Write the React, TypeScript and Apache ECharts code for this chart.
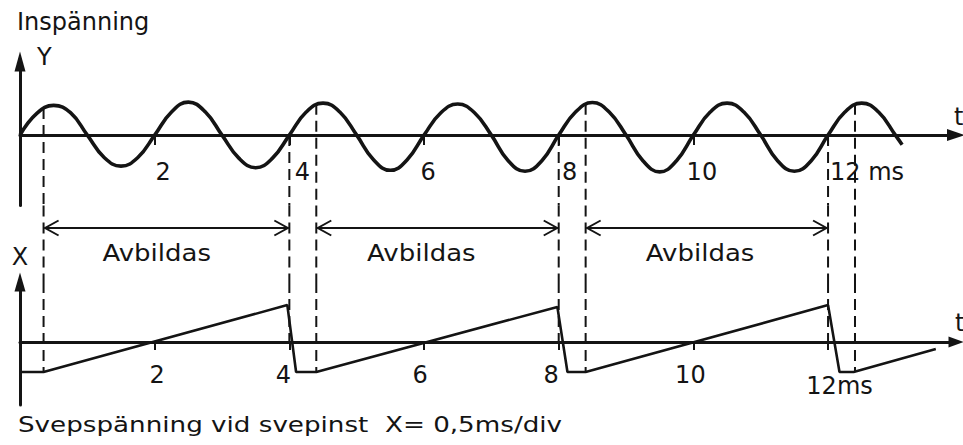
import React, { useEffect, useRef } from "react";
import * as echarts from "echarts";

// ---- data ----
const sineTimes = [
  0, 0.25, 0.5, 0.75, 1, 1.25, 1.5, 1.75, 2, 2.25, 2.5, 2.75, 3, 3.25, 3.5, 3.75,
  4, 4.25, 4.5, 4.75, 5, 5.25, 5.5, 5.75, 6, 6.25, 6.5, 6.75, 7, 7.25, 7.5, 7.75,
  8, 8.25, 8.5, 8.75, 9, 9.25, 9.5, 9.75, 10, 10.25, 10.5, 10.75, 11, 11.25, 11.5, 11.75,
  12, 12.25, 12.5, 12.75, 13, 13.1,
];
const sineValues = [
  0, 0.68, 0.93, 0.7, 0, -0.7, -0.97, -0.7, 0, 0.72, 1.03, 0.73, 0, -0.72, -1.02, -0.72,
  0, 0.72, 1.0, 0.72, 0, -0.77, -1.1, -0.77, 0, 0.7, 0.97, 0.7, 0, -0.8, -1.13, -0.8,
  0, 0.72, 1.02, 0.72, 0, -0.8, -1.15, -0.8, 0, 0.72, 1.0, 0.72, 0, -0.8, -1.13, -0.8,
  0, 0.72, 1.0, 0.72, 0, -0.3,
];
const sweepTimes = [0, 0.35, 3.97, 4.1, 4.4, 7.98, 8.13, 8.4, 12.0, 12.17, 12.38, 13.6];
const sweepValues = [-1, -1, 1.23, -1, -1, 1.17, -1, -1, 1.23, -1, -1, -0.23];

const guideTimes = [0.35, 4.0, 4.4, 8.0, 8.4, 12.0, 12.4];
const guideTopValues = [0.85, 0, 0.98, 0, 0.98, 0, 0.98];
const guideBottomValues = [-1, 0, -1, 0, -1, 0, -1];

const spanStarts = [0.35, 4.4, 8.4];
const spanEnds = [4.0, 8.0, 12.0];
const spanLabelTimes = [2.03, 5.96, 10.1];
const spanLabels = ["Avbildas", "Avbildas", "Avbildas"];

const tickValues = [2, 4, 6, 8, 10, 12];
const topTickLabels = ["2", "4", "6", "8", "10", "12 ms"];
const bottomTickLabels = ["2", "4", "6", "8", "10", "12ms"];

const titleText = "Inspänning";
const captionText = "Svepspänning vid svepinst  X= 0,5ms/div";

// ---- styles ----
const INK = "#141414";
const FONT = "DejaVu Sans";
const topLabelPad: number[][] = [
  [0, 0, 0, 17], [0, 0, 0, 26], [0, 0, 0, 8], [0, 0, 0, 22], [0, 0, 0, 17], [0, 0, 0, 78],
];
const bottomLabelPad: number[][] = [
  [0, 0, 0, 5], [0, 12, 0, 0], [0, 8, 0, 0], [0, 15, 0, 0], [0, 6, 0, 0], [0, 0, 0, 23],
];
const bottomLabelLineHeight = [24, 24, 24, 24, 24, 46];

function richFor(pads: number[][], lh?: number[]) {
  const r: Record<string, any> = {};
  pads.forEach((p, i) => {
    r["k" + i] = {
      fontFamily: FONT,
      fontSize: 24,
      color: INK,
      padding: p,
      lineHeight: lh ? lh[i] : 24,
    };
  });
  return r;
}

export default function App() {
  const ref = useRef<HTMLDivElement>(null);

  useEffect(() => {
    if (!ref.current) return;
    const chart = echarts.init(ref.current, undefined, { renderer: "svg" });

    const xMax = 13.9;
    const gridCommon = { left: 20, right: 7, containLabel: false, outerBoundsMode: "none" };

    const baseX = (gridIndex: number, show: boolean) => ({
      gridIndex,
      type: "value",
      min: 0,
      max: xMax,
      show,
      splitLine: { show: false },
    });

    const dashStyle = { stroke: INK, lineWidth: 2, lineDash: [11, 6] };

    const option: any = {
      animation: false,
      backgroundColor: "#ffffff",
      title: [
        {
          text: titleText,
          left: 17,
          top: 10,
          padding: 0,
          textStyle: { fontFamily: FONT, fontSize: 24, fontWeight: "normal", color: INK, lineHeight: 24 },
        },
      ],
      graphic: [
        {
          type: "text",
          left: 18,
          top: 413,
          scaleX: 1.19,
          style: { text: captionText, fontFamily: FONT, fontSize: 22, fill: INK, lineHeight: 24 },
        },
      ],
      grid: [
        { ...gridCommon, top: 61.5, height: 144 },
        { ...gridCommon, top: 205.5, height: 76.5 },
        { ...gridCommon, top: 282, height: 123 },
      ],
      xAxis: [
        {
          ...baseX(0, true),
          name: "t",
          nameLocation: "end",
          nameGap: -2,
          nameTextStyle: { fontFamily: FONT, fontSize: 24, color: INK, verticalAlign: "bottom", padding: [0, 0, 6, 0] },
          axisLine: { show: true, onZero: true, symbol: ["none", "triangle"], symbolSize: [12, 18], lineStyle: { color: INK, width: 3 } },
          axisTick: { show: true, customValues: tickValues, length: 10, lineStyle: { color: INK, width: 2 } },
          axisLabel: {
            show: true,
            customValues: tickValues,
            margin: -45.5,
            align: "center",
            formatter: (v: number) => {
              const i = tickValues.indexOf(v);
              return i < 0 ? "" : `{k${i}|${topTickLabels[i]}}`;
            },
            rich: richFor(topLabelPad),
          },
        },
        { ...baseX(1, false) },
        {
          ...baseX(2, true),
          name: "t",
          nameLocation: "end",
          nameGap: -1,
          nameTextStyle: { fontFamily: FONT, fontSize: 24, color: INK, verticalAlign: "bottom", padding: [0, 0, 7, 0] },
          axisLine: { show: true, onZero: true, symbol: ["none", "triangle"], symbolSize: [11, 15], lineStyle: { color: INK, width: 3 } },
          axisTick: { show: true, customValues: tickValues, length: 8, lineStyle: { color: INK, width: 2 } },
          axisLabel: {
            show: true,
            customValues: tickValues,
            margin: -42,
            align: "center",
            formatter: (v: number) => {
              const i = tickValues.indexOf(v);
              return i < 0 ? "" : `{k${i}|${bottomTickLabels[i]}}`;
            },
            rich: richFor(bottomLabelPad, bottomLabelLineHeight),
          },
        },
      ],
      yAxis: [
        {
          gridIndex: 0,
          type: "value",
          min: -2.2,
          max: 2.3,
          name: "Y",
          nameLocation: "end",
          nameGap: -7.5,
          nameTextStyle: { fontFamily: FONT, fontSize: 24, color: INK, align: "left", verticalAlign: "bottom", padding: [0, 0, 0, 17] },
          axisLine: { show: true, onZero: true, symbol: ["none", "triangle"], symbolSize: [11, 20], lineStyle: { color: INK, width: 3 } },
          axisTick: { show: false },
          axisLabel: { show: false },
          splitLine: { show: false },
        },
        { gridIndex: 1, type: "value", min: 0, max: 1, show: false, splitLine: { show: false } },
        {
          gridIndex: 2,
          type: "value",
          min: -2.1,
          max: 2.0,
          name: "X",
          nameLocation: "end",
          nameGap: 13,
          nameTextStyle: { fontFamily: FONT, fontSize: 24, color: INK, align: "center", verticalAlign: "bottom" },
          axisLine: { show: true, onZero: true, symbol: ["none", "triangle"], symbolSize: [11, 19], lineStyle: { color: INK, width: 3 } },
          axisTick: { show: false },
          axisLabel: { show: false },
          splitLine: { show: false },
        },
      ],
      series: [
        {
          type: "line",
          name: "Inspänning",
          xAxisIndex: 0,
          yAxisIndex: 0,
          data: sineTimes.map((t, i) => [t, sineValues[i]]),
          smooth: 0.45,
          showSymbol: false,
          lineStyle: { color: INK, width: 3.6 },
          z: 3,
        },
        {
          type: "line",
          name: "Svepspänning",
          xAxisIndex: 2,
          yAxisIndex: 2,
          data: sweepTimes.map((t, i) => [t, sweepValues[i]]),
          showSymbol: false,
          lineStyle: { color: INK, width: 2.6 },
          z: 3,
        },
        {
          type: "custom",
          xAxisIndex: 0,
          yAxisIndex: 0,
          data: guideTimes.map((t, i) => [t, guideTopValues[i]]),
          renderItem: (params: any, api: any) => {
            const p = api.coord([api.value(0), api.value(1)]);
            const cs = params.coordSys;
            return { type: "line", shape: { x1: p[0], y1: p[1], x2: p[0], y2: cs.y + cs.height }, style: dashStyle };
          },
          z: 2,
        },
        {
          type: "custom",
          xAxisIndex: 1,
          yAxisIndex: 1,
          data: guideTimes.map((t) => [t, 0]),
          renderItem: (params: any, api: any) => {
            const p = api.coord([api.value(0), 0]);
            const cs = params.coordSys;
            return { type: "line", shape: { x1: p[0], y1: cs.y, x2: p[0], y2: cs.y + cs.height }, style: dashStyle };
          },
          z: 2,
        },
        {
          type: "custom",
          xAxisIndex: 2,
          yAxisIndex: 2,
          data: guideTimes.map((t, i) => [t, guideBottomValues[i]]),
          renderItem: (params: any, api: any) => {
            const p = api.coord([api.value(0), api.value(1)]);
            const cs = params.coordSys;
            return { type: "line", shape: { x1: p[0], y1: cs.y, x2: p[0], y2: p[1] }, style: dashStyle };
          },
          z: 2,
        },
        {
          type: "custom",
          xAxisIndex: 1,
          yAxisIndex: 1,
          encode: { x: [0, 1, 2] },
          data: spanStarts.map((s, i) => [s, spanEnds[i], spanLabelTimes[i], i]),
          renderItem: (params: any, api: any) => {
            const cs = params.coordSys;
            const x1 = api.coord([api.value(0), 0])[0];
            const x2 = api.coord([api.value(1), 0])[0];
            const xl = api.coord([api.value(2), 0])[0];
            const idx = api.value(3);
            const y = cs.y + 22.5;
            const ty = cs.y + 48;
            const st = { stroke: INK, lineWidth: 2, fill: "none" };
            return {
              type: "group",
              children: [
                { type: "line", shape: { x1: x1 + 1, y1: y, x2: x2 - 1, y2: y }, style: st },
                { type: "polyline", shape: { points: [[x1 + 15, y - 7.5], [x1 + 1.5, y], [x1 + 15, y + 7.5]] }, style: st },
                { type: "polyline", shape: { points: [[x2 - 15, y - 7.5], [x2 - 1.5, y], [x2 - 15, y + 7.5]] }, style: st },
                {
                  type: "text",
                  x: xl,
                  y: ty,
                  scaleX: 1.13,
                  style: { text: spanLabels[idx], fontFamily: FONT, fontSize: 23, fill: INK, align: "center", verticalAlign: "middle" },
                },
              ],
            };
          },
          z: 2,
        },
      ],
    };

    chart.setOption(option);
    return () => chart.dispose();
  }, []);

  return (
    <div
      ref={ref}
      style={{ position: "fixed", left: 0, top: 0, width: 963, height: 445, background: "#fff" }}
    />
  );
}
